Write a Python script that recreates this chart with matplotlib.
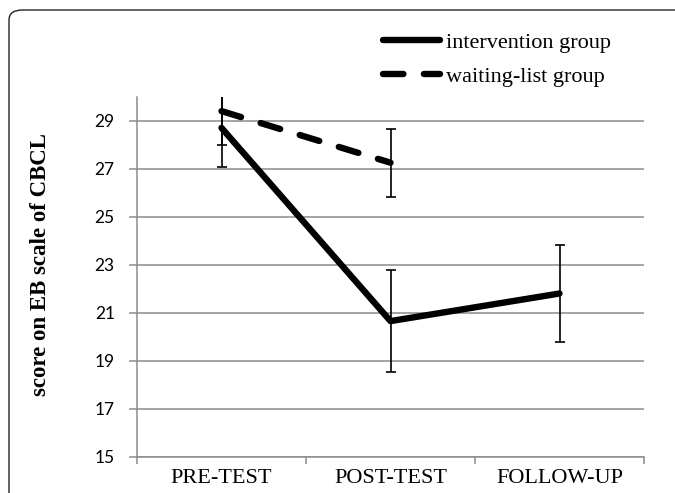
import matplotlib
matplotlib.use("Agg")
import matplotlib.pyplot as plt
from matplotlib.patches import FancyBboxPatch
from matplotlib.lines import Line2D

categories = ["PRE-TEST", "POST-TEST", "FOLLOW-UP"]
intervention = [28.7, 20.65, 21.8]
intervention_err = [1.62, 2.14, 2.04]
waiting = [29.4, 27.25]
waiting_err = [1.4, 1.42]
yticks = [15, 17, 19, 21, 23, 25, 27, 29]

fig = plt.figure(figsize=(6.75, 4.93), dpi=100)
ax = fig.add_axes([137/675, 1-456.7/493, (644-137)/675, (456.7-96.7)/493])

# rounded frame around the figure (runs off the right and bottom edges)
frame = FancyBboxPatch((9/675, -0.1), 1.1, 1.1 - 10/493,
                       boxstyle="round,pad=0,rounding_size=0.02",
                       transform=fig.transFigure, fill=False,
                       edgecolor="#222222", linewidth=1.0, clip_on=False)
fig.patches.append(frame)

x = list(range(len(categories)))
ax.set_xlim(-0.5, 2.5)
ax.set_ylim(15, 30)

for yv in yticks:
    ax.axhline(yv, color="#8c8c8c", linewidth=1.1, zorder=1)

ax.errorbar(x, intervention, yerr=intervention_err, fmt="none",
            ecolor="black", elinewidth=1.2, capsize=3.6, capthick=1.2, zorder=3)
ax.errorbar(x[:len(waiting)], waiting, yerr=waiting_err, fmt="none",
            ecolor="black", elinewidth=1.2, capsize=3.6, capthick=1.2, zorder=3)

ax.plot(x, intervention, color="black", linewidth=4.6,
        solid_capstyle="round", solid_joinstyle="round", zorder=4)
ax.plot(x[:len(waiting)], waiting, color="black", linewidth=4.6,
        linestyle=(0, (3.2, 3.2)), dash_capstyle="round", zorder=4)

for s in ["top", "right"]:
    ax.spines[s].set_visible(False)
for s in ["left", "bottom"]:
    ax.spines[s].set_color("#8c8c8c")
    ax.spines[s].set_linewidth(1.1)

ax.set_yticks(yticks)
ax.set_yticklabels([str(v) for v in yticks], fontfamily="Lato", fontsize=12.5)
ax.tick_params(axis="y", length=6, width=1.1, color="#8c8c8c", pad=10)

ax.set_xticks(x)
ax.set_xticklabels(categories, fontfamily="Liberation Serif", fontsize=16)
ax.set_xticks([-0.5, 0.5, 1.5, 2.5], minor=True)
ax.tick_params(axis="x", which="major", length=0, pad=9)
ax.tick_params(axis="x", which="minor", length=5, width=1.1, color="#8c8c8c")

fig.text(41/675, 1-265/493, "score on EB scale of CBCL", rotation=90,
         ha="center", va="center", fontfamily="Liberation Serif",
         fontweight="bold", fontsize=16.5)

handles = [
    Line2D([], [], color="black", linewidth=4.6, solid_capstyle="round"),
    Line2D([], [], color="black", linewidth=4.6, linestyle=(0, (3.2, 3.2)),
           dash_capstyle="round"),
]
fig.legend(handles, ["intervention group", "waiting-list group"],
           loc="upper left", bbox_to_anchor=(383/675, 1-32/493),
           frameon=False, prop={"family": "Liberation Serif", "size": 16},
           handlelength=2.55, handletextpad=0.3, labelspacing=0.62,
           borderpad=0, borderaxespad=0)

fig.savefig("out.png", dpi=100)
